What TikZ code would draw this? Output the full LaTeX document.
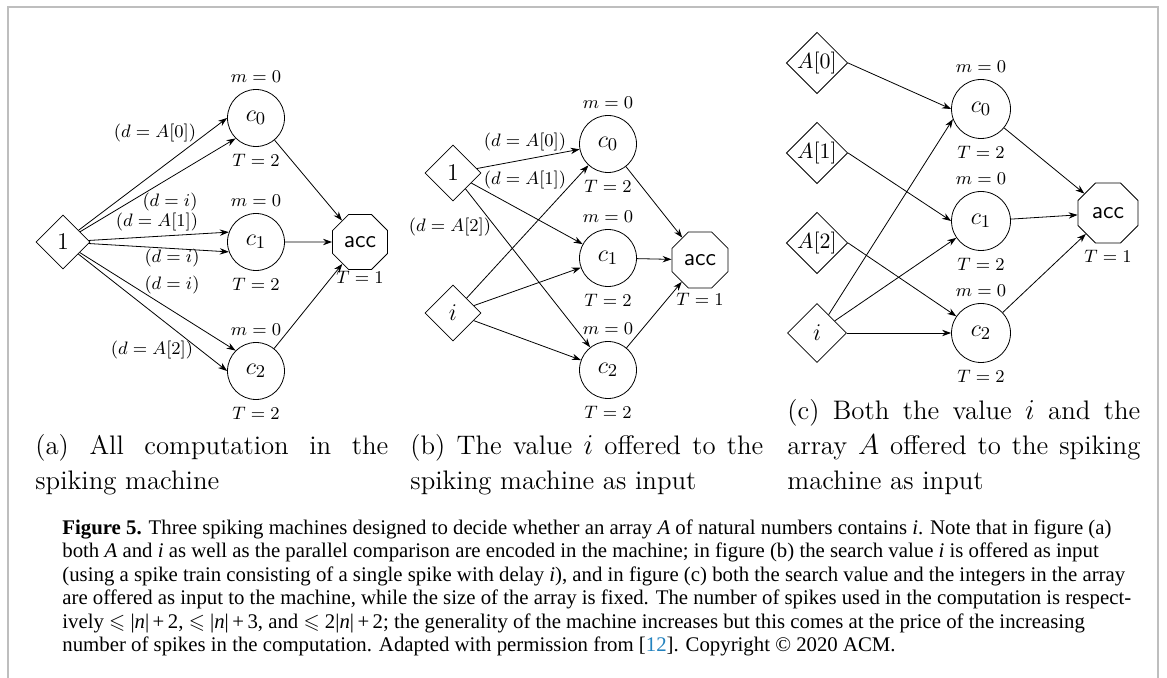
\documentclass[tikz,border=0pt]{standalone}
\usepackage{amssymb}
\usepackage{fontspec}
\newfontfamily\capfont{Liberation Serif}
\usetikzlibrary{shapes.geometric,arrows.meta}
\definecolor{marco}{RGB}{190,190,190}
\definecolor{enlace}{RGB}{35,130,190}

\begin{document}
\begin{tikzpicture}[
  x=0.5pt, y=-0.5pt,
  neurona/.style={draw, circle, minimum size=28.5pt, inner sep=0pt,
                  font=\fontsize{13}{15}\selectfont, label distance=-1.5pt,
                  label=above:{$m=0$}, label=below:{$T=2$}},
  entrada/.style={draw, diamond, minimum size=28pt, inner sep=0pt,
                  font=\fontsize{13}{15}\selectfont},
  acum/.style={draw, regular polygon, regular polygon sides=8,
               minimum size=30pt, inner sep=0pt,
               font=\fontsize{12}{14}\sffamily},
  flecha/.style={-{Stealth[length=4.5pt,width=3.2pt]}},
  etiq/.style={font=\fontsize{9.5}{11}\selectfont, inner sep=0pt},
  leyenda/.style={anchor=north west, text width=176.5pt, align=justify,
                  inner sep=0pt, font=\fontsize{13.4}{17.5}\selectfont},
  every label/.append style={font=\fontsize{9.5}{11}\selectfont}
]
  \useasboundingbox (0,0) rectangle (1167,678);
  \draw[marco, line width=1pt] (8,678) -- (8,7) -- (1158,7) -- (1158,678);

  \node[entrada, minimum size=27pt] (unoa) at (63,242) {$1$};
  \node[neurona] (c0a) at (256,118) {$c_0$};
  \node[neurona] (c1a) at (256,242) {$c_1$};
  \node[neurona] (c2a) at (256,371) {$c_2$};
  \node[acum, minimum size=29.8pt, label={[label distance=-3pt]below:$T=1$}] (acca) at (360,242) {acc};
  \draw[flecha] (unoa) -- (c0a.west);
  \draw[flecha] (unoa) -- (c0a.south west);
  \draw[flecha] (unoa) -- (c1a.160);
  \draw[flecha] (unoa) -- (c1a.200);
  \draw[flecha] (unoa) -- (c2a.north west);
  \draw[flecha] (unoa) -- (c2a.west);
  \draw[flecha] (c0a) -- (acca);
  \draw[flecha] (c1a) -- (acca);
  \draw[flecha] (c2a) -- (acca);
  \node[etiq] (ea0) at (155,133) {$(d=A[0])$};
  \node[etiq] (ea0i) at (170,202) {$(d=i)$};
  \node[etiq] (ea1) at (157,222) {$(d=A[1])$};
  \node[etiq] (ea1i) at (172,258) {$(d=i)$};
  \node[etiq] (ea2i) at (172,285) {$(d=i)$};
  \node[etiq] (ea2) at (152,350) {$(d=A[2])$};

  \node[entrada] (unob) at (453,173) {$1$};
  \node[entrada] (ib) at (453,313) {$i$};
  \node[neurona] (c0b) at (608,144) {$c_0$};
  \node[neurona] (c1b) at (608,258) {$c_1$};
  \node[neurona] (c2b) at (608,370) {$c_2$};
  \node[acum, minimum size=30.3pt, label={[label distance=-1pt]below:$T=1$}] (accb) at (700,260) {acc};
  \draw[flecha] (unob) -- (c0b);
  \draw[flecha] (unob) -- (c1b);
  \draw[flecha] (unob) -- (c2b);
  \draw[flecha] (ib) -- (c0b);
  \draw[flecha] (ib) -- (c1b);
  \draw[flecha] (ib) -- (c2b);
  \draw[flecha] (c0b) -- (accb);
  \draw[flecha] (c1b) -- (accb);
  \draw[flecha] (c2b) -- (accb);
  \node[etiq] (eb0) at (525,142) {$(d=A[0])$};
  \node[etiq] (eb1) at (525,180) {$(d=A[1])$};
  \node[etiq] (eb2) at (450,227) {$(d=A[2])$};

  \node[entrada, minimum size=29.5pt, font=\fontsize{10.5}{12}\selectfont] (a0c) at (817,63) {$A[0]$};
  \node[entrada, minimum size=29.5pt, font=\fontsize{10.5}{12}\selectfont] (a1c) at (817,153) {$A[1]$};
  \node[entrada, minimum size=29.5pt, font=\fontsize{10.5}{12}\selectfont] (a2c) at (817,243) {$A[2]$};
  \node[entrada, minimum size=29.5pt] (ic) at (817,333) {$i$};
  \node[neurona, minimum size=29.5pt] (c0c) at (981,109) {$c_0$};
  \node[neurona, minimum size=29.5pt] (c1c) at (981,221) {$c_1$};
  \node[neurona, minimum size=29.5pt] (c2c) at (981,333) {$c_2$};
  \node[acum, minimum size=32.5pt, label={below:$T=1$}] (accc) at (1108,213) {acc};
  \draw[flecha] (a0c.east) -- (c0c.west);
  \draw[flecha] (a1c.east) -- (c1c.west);
  \draw[flecha] (a2c.east) -- (c2c);
  \draw[flecha] (ic) -- (c0c.200);
  \draw[flecha] (ic) -- (c1c);
  \draw[flecha] (ic) -- (c2c);
  \draw[flecha] (c0c) -- (accc);
  \draw[flecha] (c1c) -- (accc);
  \draw[flecha] (c2c) -- (accc);

  \node[leyenda] (suba) at (35,434) {(a) All computation in the\linebreak spiking machine};
  \node[leyenda] (subb) at (410,434) {(b) The value $i$ offered to the\linebreak spiking machine as input};
  \node[leyenda] (subc) at (787,399) {(c) Both the value $i$ and the\linebreak array $A$ offered to the spiking\linebreak machine as input};

  \node[anchor=north west, inner sep=0pt, align=left,
        font=\capfont\fontsize{10.4}{11.75}\selectfont] (pie) at (62,519)
  {\textbf{Figure 5.} Three spiking machines designed to decide whether an array \textit{A} of natural numbers contains \textit{i}. Note that in figure (a)\\
   both \textit{A} and \textit{i} as well as the parallel comparison are encoded in the machine; in figure (b) the search value \textit{i} is offered as input\\
   (using a spike train consisting of a single spike with delay \textit{i}), and in figure (c) both the search value and the integers in the array\\
   are offered as input to the machine, while the size of the array is fixed. The number of spikes used in the computation is respect-\\
   ively $\leqslant$ |\textit{n}|\,+\,2, $\leqslant$ |\textit{n}|\,+\,3, and $\leqslant$ 2|\textit{n}|\,+\,2; the generality of the machine increases but this comes at the price of the increasing\\
   number of spikes in the computation. Adapted with permission from [{\color{enlace}12}]. Copyright © 2020 ACM.};
\end{tikzpicture}
\end{document}
